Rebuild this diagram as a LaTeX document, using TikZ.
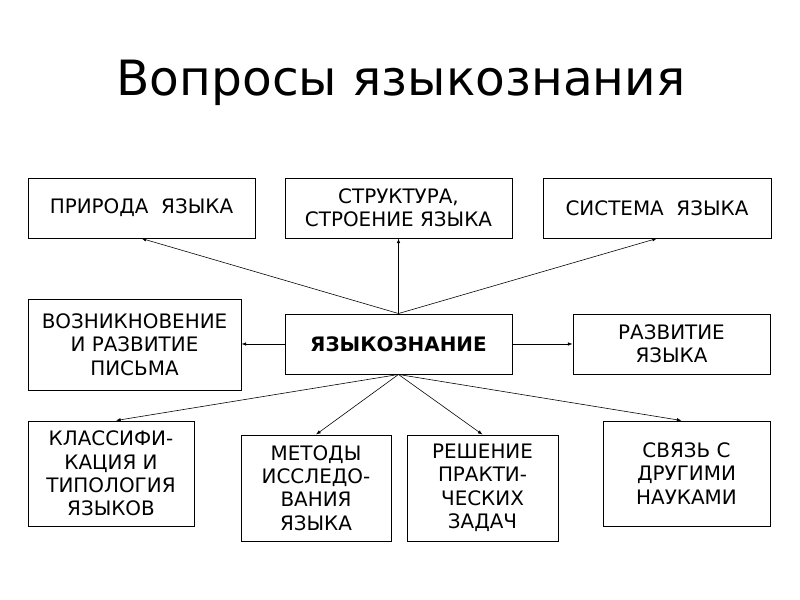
\documentclass[tikz,border=0pt]{standalone}
\usepackage{fontspec}
\setmainfont{DejaVu Sans}
\usetikzlibrary{arrows.meta}

\begin{document}
\begin{tikzpicture}[x=0.03cm, y=-0.03cm,
    topicbox/.style={draw, line width=0.8pt, align=center, inner sep=0pt,
      font=\fontsize{17}{20}\selectfont},
    link/.style={-{Latex[length=4pt, width=3pt]}, line width=0.5pt}]
  \useasboundingbox (0,0) rectangle (800,600);
  \node [anchor=base, font=\fontsize{41.5}{50}\selectfont] (title) at (401,96) {Вопросы языкознания};

  \node [topicbox, minimum width=6.81cm, minimum height=1.8cm] (priroda) at (141.5,208) {ПРИРОДА\ \ ЯЗЫКА};
  \node [topicbox, minimum width=6.81cm, minimum height=1.8cm] (struktura) at (398.5,208) {СТРУКТУРА,\\СТРОЕНИЕ ЯЗЫКА};
  \node [topicbox, minimum width=6.84cm, minimum height=1.8cm] (sistema) at (657,208) {СИСТЕМА\ \ ЯЗЫКА};

  \node [topicbox, minimum width=6.39cm, minimum height=2.73cm] (vozn) at (134.5,344.5) {ВОЗНИКНОВЕНИЕ\\И РАЗВИТИЕ\\ПИСЬМА};
  \node [topicbox, minimum width=6.81cm, minimum height=1.8cm, font=\fontsize{17}{20}\selectfont\bfseries] (yazkozn) at (398.5,344) {ЯЗЫКОЗНАНИЕ};
  \node [topicbox, minimum width=5.91cm, minimum height=1.8cm] (razvitie) at (671.5,344) {РАЗВИТИЕ\\ЯЗЫКА};

  \node [topicbox, minimum width=4.98cm, minimum height=3.15cm] (klass) at (111,473.5) {КЛАССИФИ-\\КАЦИЯ И\\ТИПОЛОГИЯ\\ЯЗЫКОВ};
  \node [topicbox, minimum width=4.5cm, minimum height=3.18cm] (metody) at (316,488) {МЕТОДЫ\\ИССЛЕДО-\\ВАНИЯ\\ЯЗЫКА};
  \node [topicbox, minimum width=4.53cm, minimum height=3.18cm] (reshenie) at (482.5,488) {РЕШЕНИЕ\\ПРАКТИ-\\ЧЕСКИХ\\ЗАДАЧ};
  \node [topicbox, minimum width=5.01cm, minimum height=3.15cm] (svyaz) at (686.5,473.5) {СВЯЗЬ С\\ДРУГИМИ\\НАУКАМИ};

  \draw [link] (yazkozn.north) -- (priroda.south);
  \draw [link] (yazkozn.north) -- (struktura.south);
  \draw [link] (yazkozn.north) -- (sistema.south);
  \draw [link] (yazkozn.west) -- (yazkozn.west -| vozn.east);
  \draw [link] (yazkozn.east) -- (yazkozn.east -| razvitie.west);
  \draw [link] (yazkozn.south) -- ([xshift=0.15cm]klass.north);
  \draw [link] (yazkozn.south) -- (metody.north);
  \draw [link] (yazkozn.south) -- (reshenie.north);
  \draw [link] (yazkozn.south) -- ([xshift=-0.15cm]svyaz.north);
\end{tikzpicture}
\end{document}
